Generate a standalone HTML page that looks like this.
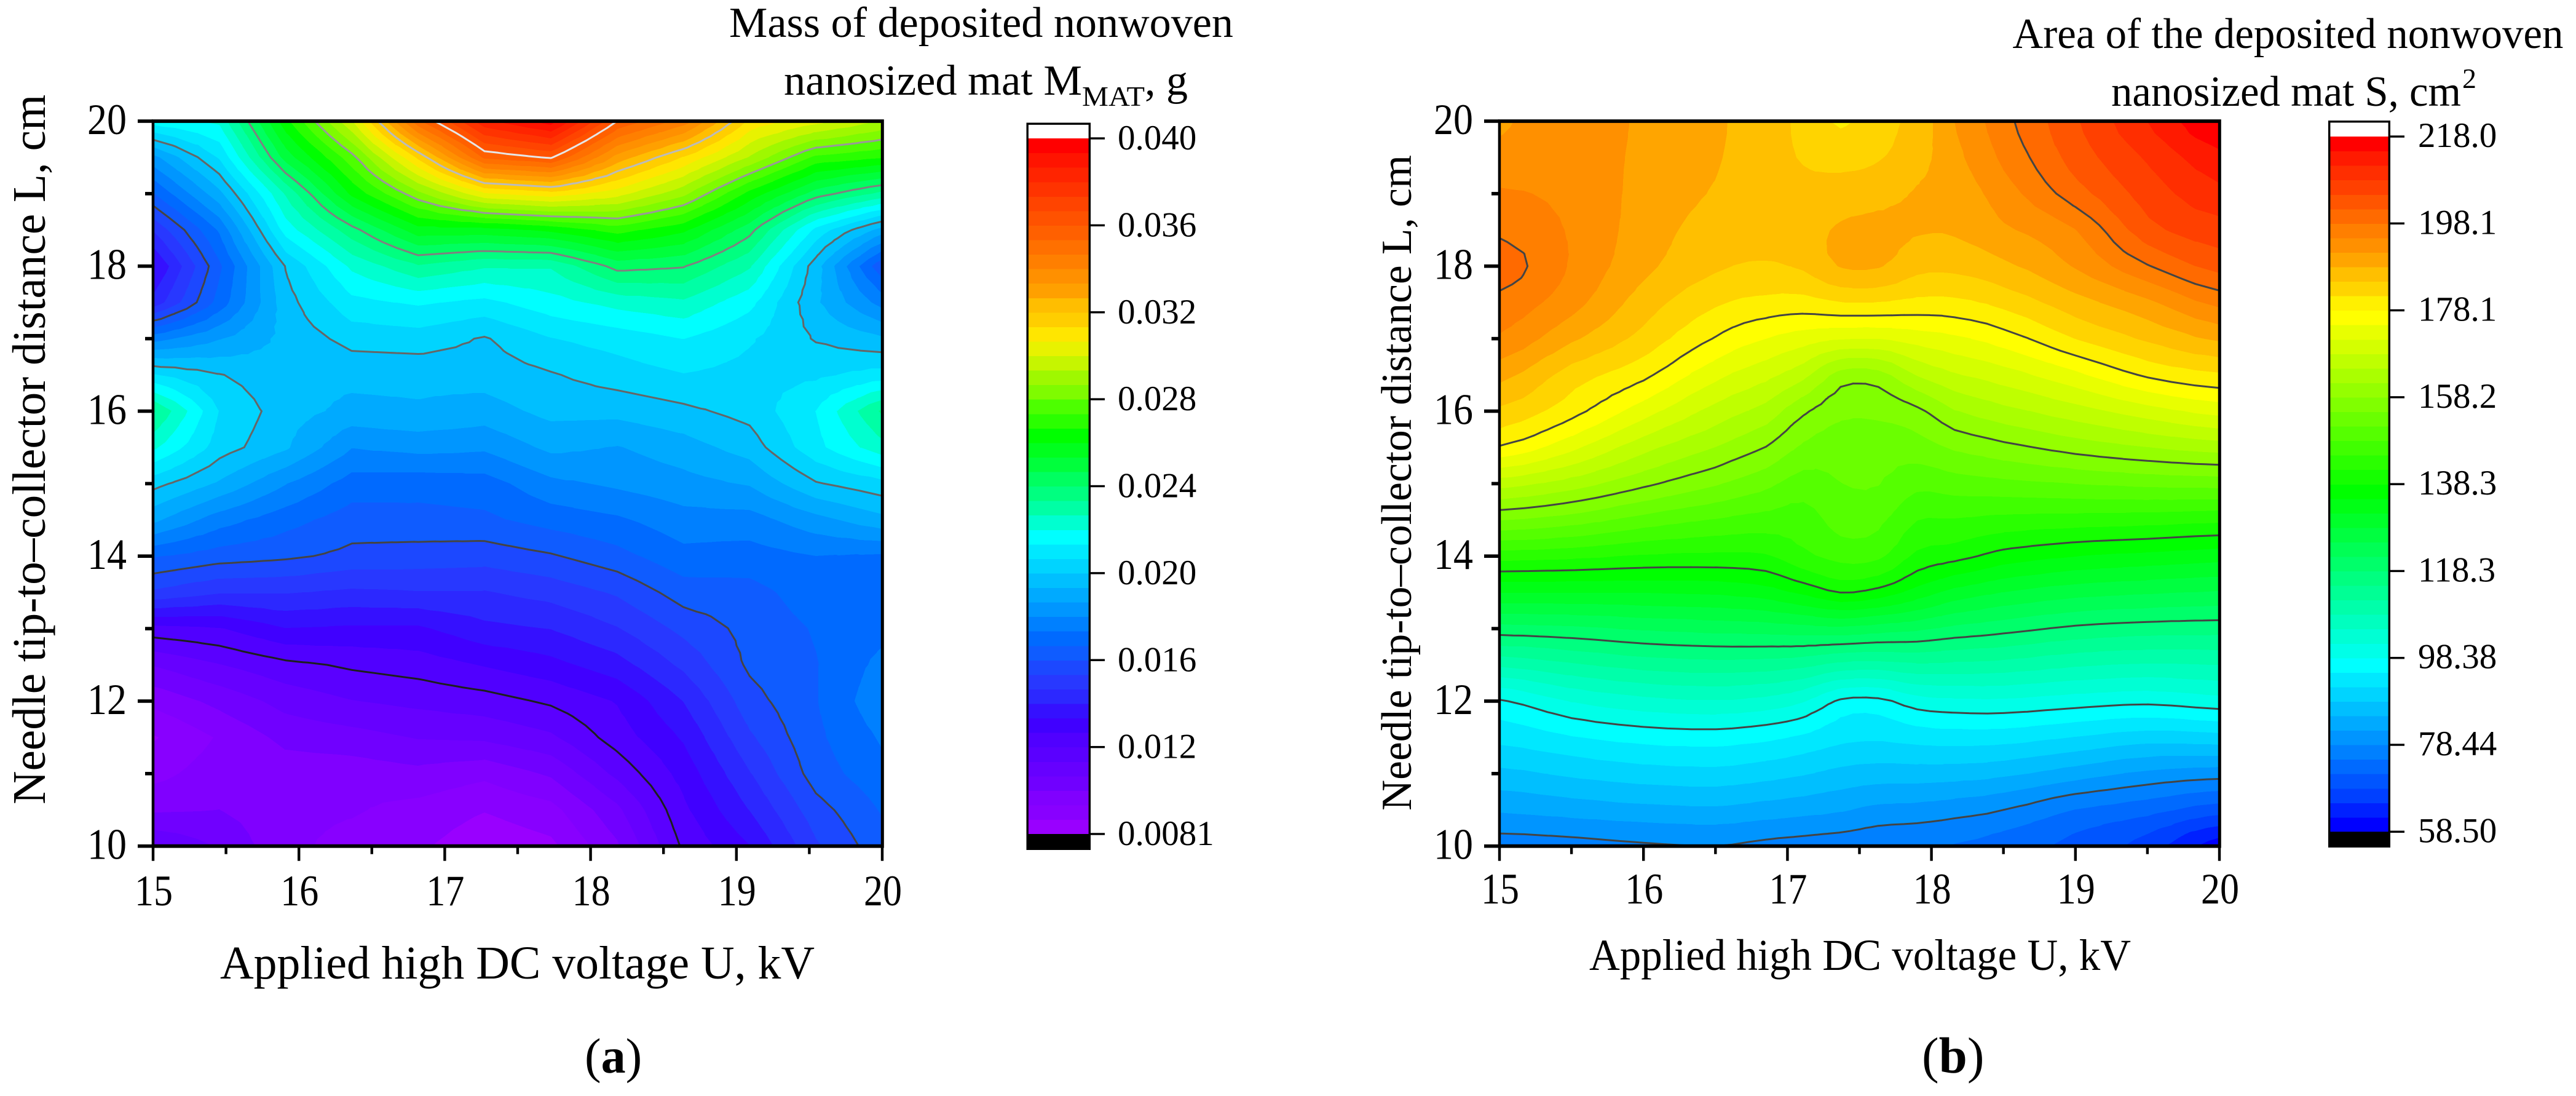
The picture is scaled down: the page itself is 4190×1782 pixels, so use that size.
<!DOCTYPE html>
<html lang="en">
<head>
<meta charset="utf-8">
<title>Deposited nonwoven nanosized mat contour plots</title>
<style>
html,body{margin:0;padding:0;background:#fff;}
svg{display:block;}
text{font-family:"Liberation Serif","Times New Roman",serif;fill:#000;}
</style>
</head>
<body>
<svg id="figure" xmlns="http://www.w3.org/2000/svg" width="4190" height="1782" viewBox="0 0 4190 1782">
  <rect x="0" y="0" width="4190" height="1782" fill="#fff"/>
  <g id="chart-a"></g>
  <g id="chart-b"></g>

  <text transform="translate(73,1307.7) rotate(-90)" font-size="76" textLength="1154" lengthAdjust="spacingAndGlyphs">Needle tip-to–collector distance L, cm</text>
  <text x="358" y="1591" font-size="76" textLength="967" lengthAdjust="spacingAndGlyphs">Applied high DC voltage U, kV</text>
  <text x="1186" y="60" font-size="70" textLength="820" lengthAdjust="spacingAndGlyphs">Mass of deposited nonwoven</text>
  <text x="1275" y="154" font-size="70" textLength="485" lengthAdjust="spacingAndGlyphs">nanosized mat M</text>
  <text x="1760" y="172" font-size="46" textLength="102" lengthAdjust="spacingAndGlyphs">MAT</text>
  <text x="1862" y="154" font-size="70" textLength="70" lengthAdjust="spacingAndGlyphs">, g</text>
  <text x="951" y="1744" font-size="80">(<tspan font-weight="bold">a</tspan>)</text>

  <text transform="translate(2295,1318) rotate(-90)" font-size="70" textLength="1066" lengthAdjust="spacingAndGlyphs">Needle tip-to–collector distance L, cm</text>
  <text x="2585" y="1577" font-size="72" textLength="881" lengthAdjust="spacingAndGlyphs">Applied high DC voltage U, kV</text>
  <text x="3273.5" y="78" font-size="70" textLength="896" lengthAdjust="spacingAndGlyphs">Area of the deposited nonwoven</text>
  <text x="3434" y="172" font-size="70" textLength="569" lengthAdjust="spacingAndGlyphs">nanosized mat S, cm</text>
  <text x="4005" y="143" font-size="46">2</text>
  <text x="3126" y="1744" font-size="83">(<tspan font-weight="bold">b</tspan>)</text>
</svg>

<script>
/* ---------- Chart (a): mass of deposited mat ---------- */
const massVoltages = [15, 15.4545, 15.9091, 16.3636, 16.8182, 17.2727, 17.7273, 18.1818, 18.6364, 19.0909, 19.5455, 20];
const massDistances = [20, 19.5, 19, 18.5, 18, 17.5, 17, 16.5, 16, 15.5, 15, 14.5, 14, 13.5, 13, 12.5, 12, 11.5, 11, 10.5, 10];
const massValues = [
  [.0217,.0222,.0265,.0300,.0352,.0385,.0397,.0360,.0344,.0312,.0303,.0293],
  [.0185,.0208,.0250,.0278,.0315,.0355,.0361,.0331,.0313,.0293,.0272,.0268],
  [.0167,.0192,.0228,.0262,.0285,.0306,.0311,.0303,.0289,.0265,.0244,.0232],
  [.0148,.0175,.0217,.0238,.0258,.0258,.0262,.0270,.0262,.0243,.0212,.0191],
  [.0133,.0166,.0201,.0222,.0233,.0228,.0228,.0243,.0241,.0228,.0197,.0162],
  [.0143,.0170,.0198,.0212,.0215,.0212,.0218,.0223,.0226,.0216,.0195,.0178],
  [.0178,.0187,.0196,.0203,.0204,.0200,.0207,.0210,.0214,.0208,.0200,.0195],
  [.0208,.0201,.0196,.0196,.0196,.0197,.0200,.0204,.0207,.0205,.0206,.0210],
  [.0235,.0207,.0197,.0192,.0193,.0191,.0196,.0196,.0199,.0203,.0214,.0235],
  [.0222,.0204,.0195,.0181,.0183,.0182,.0189,.0187,.0191,.0197,.0212,.0225],
  [.0203,.0193,.0181,.0171,.0170,.0171,.0179,.0182,.0185,.0188,.0200,.0205],
  [.0189,.0177,.0170,.0164,.0165,.0166,.0170,.0173,.0178,.0178,.0185,.0192],
  [.0168,.0164,.0162,.0159,.0158,.0157,.0160,.0165,.0172,.0171,.0174,.0173],
  [.0153,.0148,.0148,.0146,.0147,.0147,.0150,.0155,.0164,.0165,.0171,.0172],
  [.0125,.0127,.0134,.0133,.0133,.0139,.0141,.0147,.0156,.0163,.0168,.0172],
  [.0108,.0114,.0119,.0122,.0124,.0128,.0132,.0138,.0149,.0162,.0167,.0176],
  [.0096,.0103,.0110,.0114,.0116,.0118,.0122,.0128,.0141,.0158,.0167,.0179],
  [.0087,.0095,.0103,.0105,.0108,.0109,.0113,.0124,.0135,.0153,.0166,.0175],
  [.0092,.0098,.0097,.0097,.0099,.0096,.0102,.0116,.0130,.0147,.0164,.0172],
  [.0100,.0101,.0096,.0095,.0092,.0088,.0092,.0106,.0126,.0141,.0158,.0168],
  [.0114,.0107,.0096,.0092,.0089,.0083,.0086,.0100,.0122,.0134,.0153,.0165]
];
const massColorbarLabels = ["0.0081","0.012","0.016","0.020","0.024","0.028","0.032","0.036","0.040"];
const massRange = [0.0081, 0.040];

/* ---------- Chart (b): area of deposited mat ---------- */
const areaVoltages = [15, 15.5, 16, 16.5, 16.85, 17.11, 17.37, 17.63, 17.9, 18.16, 18.5, 19, 19.5, 20];
const areaDistances = [20, 19.5, 19, 18.5, 18, 17.5, 17, 16.5, 16, 15.5, 15, 14.5, 14, 13.5, 13, 12.5, 12, 11.5, 11, 10.5, 10];
const areaValues = [
  [190.9,193.5,190.8,188.6,186.5,183.8,181.0,183.5,186.0,191.4,197.0,204.3,211.4,218.0],
  [192.5,193.5,190.6,188.4,186.3,184.5,183.7,184.5,186.8,190.5,195.5,202.8,208.5,213.7],
  [195.2,193.8,190.4,187.8,186.0,185.8,186.2,187.0,188.4,189.6,193.2,199.9,206.1,210.4],
  [197.4,194.4,189.9,186.6,185.6,186.8,188.5,189.0,188.4,188.5,190.9,194.7,203.5,206.6],
  [199.8,194.4,189.0,185.3,184.5,185.3,188.3,188.4,185.8,185.7,187.4,191.7,197.8,202.6],
  [197.0,192.7,186.5,182.0,180.5,180.2,181.4,181.4,180.6,180.7,182.6,186.8,190.7,195.7],
  [194.3,188.7,183.6,177.9,174.8,173.1,171.7,171.6,172.9,174.2,176.5,181.5,185.3,188.6],
  [189.2,183.2,179.0,172.5,169.2,165.9,160.2,160.2,165.0,167.8,170.0,174.0,178.7,181.0],
  [184.1,179.4,173.0,167.0,163.6,158.8,155.8,155.8,157.4,161.3,163.8,166.8,170.0,172.7],
  [177.8,172.4,166.0,161.5,158.1,154.3,152.8,152.8,153.4,155.4,157.2,159.6,161.5,163.0],
  [166.3,163.2,159.0,155.3,152.5,150.0,151.5,151.7,149.2,150.0,150.7,151.6,152.4,152.9],
  [155.1,153.2,150.2,148.0,146.9,146.6,149.5,149.0,145.0,144.7,143.9,143.4,143.0,142.3],
  [143.1,142.4,141.2,140.8,141.2,144.0,146.0,145.6,140.8,139.4,136.9,135.0,134.0,133.1],
  [131.7,131.7,131.8,132.2,133.4,135.7,138.3,137.0,133.6,130.5,128.2,126.3,125.4,124.7],
  [120.3,120.9,122.1,122.8,123.2,123.8,124.2,123.3,122.3,120.8,119.5,117.6,116.7,116.4],
  [109.0,111.2,113.0,113.7,113.4,112.6,110.7,110.3,111.2,110.9,110.4,108.8,108.0,108.4],
  [98.0,101.9,104.0,104.8,103.9,102.0,97.8,97.5,100.2,101.0,101.1,100.0,99.2,100.4],
  [92.8,94.8,96.3,96.7,95.8,94.5,92.7,92.3,93.1,93.4,93.2,91.6,90.0,90.5],
  [87.5,89.0,90.2,90.6,89.7,88.7,87.4,86.8,86.8,86.6,85.8,83.4,81.0,79.9],
  [82.2,83.2,84.1,84.5,83.6,82.9,82.1,80.9,80.6,79.8,78.44,75.0,73.0,70.0],
  [77.0,77.3,78.0,78.44,77.6,77.2,76.8,76.0,75.5,74.9,73.5,70.7,67.0,60.0]
];
const areaColorbarLabels = ["58.50","78.44","98.38","118.3","138.3","158.2","178.1","198.1","218.0"];
const areaRange = [58.5, 218.0];

/* ---------- Shared axis data ---------- */
const xMajorTicks = [15, 16, 17, 18, 19, 20];
const xMinorTicks = [15.5, 16.5, 17.5, 18.5, 19.5];
const yMajorTicks = [10, 12, 14, 16, 18, 20];
const yMinorTicks = [11, 13, 15, 17, 19];

/* Band colours from the top of the colour scale to the bottom */
const massPalette = ["#ff0000","#ff1400","#ff2400","#ff3300","#ff4400","#ff5200","#ff6000","#ff7000","#ff7f00","#ff9000","#ffa000","#ffbe00","#ffce00","#ffe600","#e8f200","#c6f500","#9ff800","#7ffb00","#4dff00","#2aff00","#00ff00","#00ff1e","#00ff3c","#00ff60","#00ff80","#00ffa5","#00ffd0","#00ffff","#00e8ff","#00d4ff","#00bfff","#00aaff","#0096ff","#0080ff","#006aff","#0f5cff","#1c48ff","#2838ff","#2c28ff","#3510ff","#4000ff","#5000ff","#5a00ff","#6600ff","#7000ff","#8000ff","#8800ff","#9900ff"];
const areaPalette = ["#ff0000","#ff1a00","#ff2e00","#ff4000","#ff5500","#ff6a00","#ff7f00","#ff9000","#ffa500","#ffbf00","#ffd400","#fff000","#ffff00","#e8ff00","#d4ff00","#bfff00","#aaff00","#95ff00","#80ff00","#6aff00","#55ff00","#40ff00","#2aff00","#15ff00","#00ff00","#00ff15","#00ff2a","#00ff40","#00ff55","#00ff6a","#00ff80","#00ff95","#00ffaa","#00ffbf","#00ffd4","#00ffe8","#00ffff","#00e8ff","#00d4ff","#00bfff","#00aaff","#0095ff","#0080ff","#006aff","#0055ff","#0040ff","#0020ff","#0000ff"];
const massLineColors = ["#1e1e1e","#444444","#666666","#808080","#999999","#bbbbbb","#e6e6e6"];
const areaLineColors = ["#444444","#444444","#444444","#444444","#444444","#444444","#444444"];

const SVGNS = "http://www.w3.org/2000/svg";
const BANDS = 48;
const SUBDIVISIONS = 3;

function make(tag, attrs, parent) {
  const node = document.createElementNS(SVGNS, tag);
  for (const key in attrs) node.setAttribute(key, attrs[key]);
  parent.appendChild(node);
  return node;
}

/* interpolation weights: Catmull-Rom when smooth, straight otherwise */
function blend(p0, p1, p2, p3, t, smooth) {
  if (!smooth) return p1 + (p2 - p1) * t;
  return 0.5 * (2 * p1 + (p2 - p0) * t + (2 * p0 - 5 * p1 + 4 * p2 - p3) * t * t + (3 * p1 - p0 - 3 * p2 + p3) * t * t * t);
}

function refine1d(values, smooth) {
  const out = [];
  const n = values.length;
  for (let i = 0; i < n - 1; i++) {
    for (let s = 0; s < SUBDIVISIONS; s++) {
      out.push(blend(values[Math.max(i - 1, 0)], values[i], values[i + 1], values[Math.min(i + 2, n - 1)], s / SUBDIVISIONS, smooth));
    }
  }
  out.push(values[n - 1]);
  return out;
}

function refineGrid(zs, smooth) {
  const rows = zs.map(r => refine1d(r, smooth));
  const result = rows[0].map(() => []);
  const cols = rows[0].length;
  let out = null;
  for (let q = 0; q < cols; q++) {
    const col = refine1d(rows.map(r => r[q]), smooth);
    if (!out) out = col.map(() => new Array(cols));
    col.forEach((v, r) => { out[r][q] = v; });
  }
  return out;
}

function drawChart(c) {
  const root = document.getElementById(c.id);
  const xFirst = xMajorTicks[0], xLast = xMajorTicks[xMajorTicks.length - 1];
  const yFirst = yMajorTicks[0], yLast = yMajorTicks[yMajorTicks.length - 1];
  const sx = u => c.left + (u - xFirst) / (xLast - xFirst) * (c.right - c.left);
  const sy = l => c.bottom - (l - yFirst) / (yLast - yFirst) * (c.bottom - c.top);
  const step = (c.range[1] - c.range[0]) / BANDS;
  const levelAt = k => c.range[0] + k * step;

  const xs = refine1d(c.xs, false);
  const ys = refine1d(c.ys, false);
  const zs = refineGrid(c.zs, c.smooth);

  /* triangles from the refined grid */
  const tris = [];
  for (let r = 0; r < ys.length - 1; r++) {
    for (let q = 0; q < xs.length - 1; q++) {
      const a = [sx(xs[q]), sy(ys[r]), zs[r][q]];
      const b = [sx(xs[q + 1]), sy(ys[r]), zs[r][q + 1]];
      const d = [sx(xs[q + 1]), sy(ys[r + 1]), zs[r + 1][q + 1]];
      const e = [sx(xs[q]), sy(ys[r + 1]), zs[r + 1][q]];
      tris.push([a, b, d], [a, d, e]);
    }
  }

  const cross = (p, o, lv) => {
    const t = (lv - p[2]) / (o[2] - p[2]);
    return [p[0] + t * (o[0] - p[0]), p[1] + t * (o[1] - p[1])];
  };

  /* filled bands */
  const fills = make("g", {"shape-rendering": "crispEdges"}, root);
  
  
  const base = make("rect", {x: c.left, y: c.top, width: c.right - c.left, height: c.bottom - c.top, fill: c.palette[BANDS - 1]}, fills);
  
  
  for (let k = 1; k < BANDS; k++) {
    const lv = levelAt(k);
    let d = "";
    for (const t of tris) {
      const lo = Math.min(t[0][2], t[1][2], t[2][2]);
      const hi = Math.max(t[0][2], t[1][2], t[2][2]);
      if (hi < lv) continue;
      if (lo >= lv + step && k < BANDS - 1) continue;
      const pts = [];
      for (let i = 0; i < 3; i++) {
        const p = t[i], o = t[(i + 1) % 3];
        if (p[2] >= lv) pts.push(p);
        if ((p[2] >= lv) !== (o[2] >= lv)) pts.push(cross(p, o, lv));
      }
      if (pts.length > 2) d += "M" + pts.map(p => Math.round(p[0]) + " " + Math.round(p[1])).join("L") + "Z";
    }
    if (!d) continue;
    const band = make("path", {d: d, fill: c.palette[BANDS - 1 - k]}, fills);
    
    
  }

  /* contour lines: one at every sixth band boundary */
  const lines = make("g", {fill: "none", "stroke-width": 3, "stroke-linecap": "round"}, root);
  
  
  for (let n = 1; n <= 7; n++) {
    const lv = levelAt(n * 6);
    let d = "";
    for (const t of tris) {
      const seg = [];
      for (let i = 0; i < 3; i++) {
        const p = t[i], o = t[(i + 1) % 3];
        if ((p[2] >= lv) !== (o[2] >= lv)) seg.push(cross(p, o, lv));
      }
      if (seg.length === 2) d += "M" + seg[0][0].toFixed(1) + " " + seg[0][1].toFixed(1) + "L" + seg[1][0].toFixed(1) + " " + seg[1][1].toFixed(1);
    }
    if (!d) continue;
    const line = make("path", {d: d, stroke: c.lineColors[n - 1]}, lines);
    
    
  }

  /* axis ticks */
  const axes = make("g", {fill: "#000"}, root);
  
  
  xMajorTicks.forEach(v => {
    const tick = make("rect", {x: sx(v) - 2.2, y: c.bottom, width: 4.4, height: 24}, axes);
    
    
    const label = make("text", {x: sx(v) + 1, y: c.xLabelBase, "font-size": 71, "text-anchor": "middle", textLength: 62, lengthAdjust: "spacingAndGlyphs"}, axes);
    label.textContent = String(v);
    
    
  });
  xMinorTicks.forEach(v => {
    const tick = make("rect", {x: sx(v) - 2.2, y: c.bottom, width: 4.4, height: 13}, axes);
    
    
  });
  yMajorTicks.forEach(v => {
    const tick = make("rect", {x: c.left - 25, y: sy(v) - 2.8, width: 25, height: 5.6}, axes);
    
    
    const label = make("text", {x: c.left - 43, y: sy(v) + 21, "font-size": 71, "text-anchor": "end", textLength: 64, lengthAdjust: "spacingAndGlyphs"}, axes);
    label.textContent = String(v);
    
    
  });
  yMinorTicks.forEach(v => {
    const tick = make("rect", {x: c.left - 13, y: sy(v) - 2.8, width: 13, height: 5.6}, axes);
    
    
  });

  /* plot frame */
  const frame = make("path", {
    d: "M" + (c.left - 2.3) + " " + (c.top - 2.9) + "H" + (c.right + 2.8) + "V" + (c.bottom + 2.9) + "H" + (c.left - 2.3) + "Z" +
       "M" + (c.left + 2.2) + " " + (c.top + 2.9) + "V" + (c.bottom - 2.9) + "H" + (c.right - 2.2) + "V" + (c.top + 2.9) + "Z",
    fill: "#000", "fill-rule": "evenodd"
  }, axes);
  
  

  /* colour scale */
  const cb = c.cb;
  const bar = make("g", {}, root);
  
  
  const cy = v => cb.yMin - (v - c.range[0]) / (c.range[1] - c.range[0]) * (cb.yMin - cb.yMax);
  const over = make("rect", {x: cb.left, y: cb.top, width: cb.right - cb.left, height: cb.yMax - cb.top, fill: "#fff"}, bar);
  
  
  const cells = make("g", {"shape-rendering": "crispEdges"}, bar);
  
  
  for (let k = 0; k < BANDS; k++) {
    const yTop = cy(levelAt(k + 1)), yBot = cy(levelAt(k));
    const cell = make("rect", {x: cb.left, y: yTop, width: cb.right - cb.left, height: yBot - yTop + 0.6, fill: c.palette[BANDS - 1 - k]}, cells);
    
    
  }
  const under = make("rect", {x: cb.left, y: cb.yMin, width: cb.right - cb.left, height: cb.under - cb.yMin, fill: "#000"}, bar);
  
  
  const border = make("rect", {x: cb.left + 1.7, y: cb.top + 1.7, width: cb.right - cb.left - 3.4, height: cb.under - cb.top - 3.4, fill: "none", stroke: "#000", "stroke-width": 3.4}, bar);
  
  
  c.colorbarLabels.forEach((text, i) => {
    const y = cy(levelAt(i * 6));
    const tick = make("rect", {x: cb.right, y: y - 1.7, width: 23, height: 3.4, fill: "#000"}, bar);
    
    
    const label = make("text", {x: cb.labelX, y: y + cb.labelDy, "font-size": 57}, bar);
    label.textContent = text;
    
    
  });
}

drawChart({
  id: "chart-a", xs: massVoltages, ys: massDistances, zs: massValues, range: massRange, smooth: false,
  palette: massPalette, lineColors: massLineColors, colorbarLabels: massColorbarLabels,
  left: 249, right: 1435, top: 197, bottom: 1375.7, xLabelBase: 1472,
  cb: {left: 1669.5, right: 1774, top: 199.5, yMax: 225, yMin: 1356, under: 1382, labelX: 1818, labelDy: 18}
});
drawChart({
  id: "chart-b", xs: areaVoltages, ys: areaDistances, zs: areaValues, range: areaRange, smooth: true,
  palette: areaPalette, lineColors: areaLineColors, colorbarLabels: areaColorbarLabels,
  left: 2439, right: 3610, top: 197, bottom: 1375.7, xLabelBase: 1469,
  cb: {left: 3787, right: 3888, top: 196, yMax: 222, yMin: 1352.3, under: 1378, labelX: 3933, labelDy: 17}
});
</script>
</body>
</html>
